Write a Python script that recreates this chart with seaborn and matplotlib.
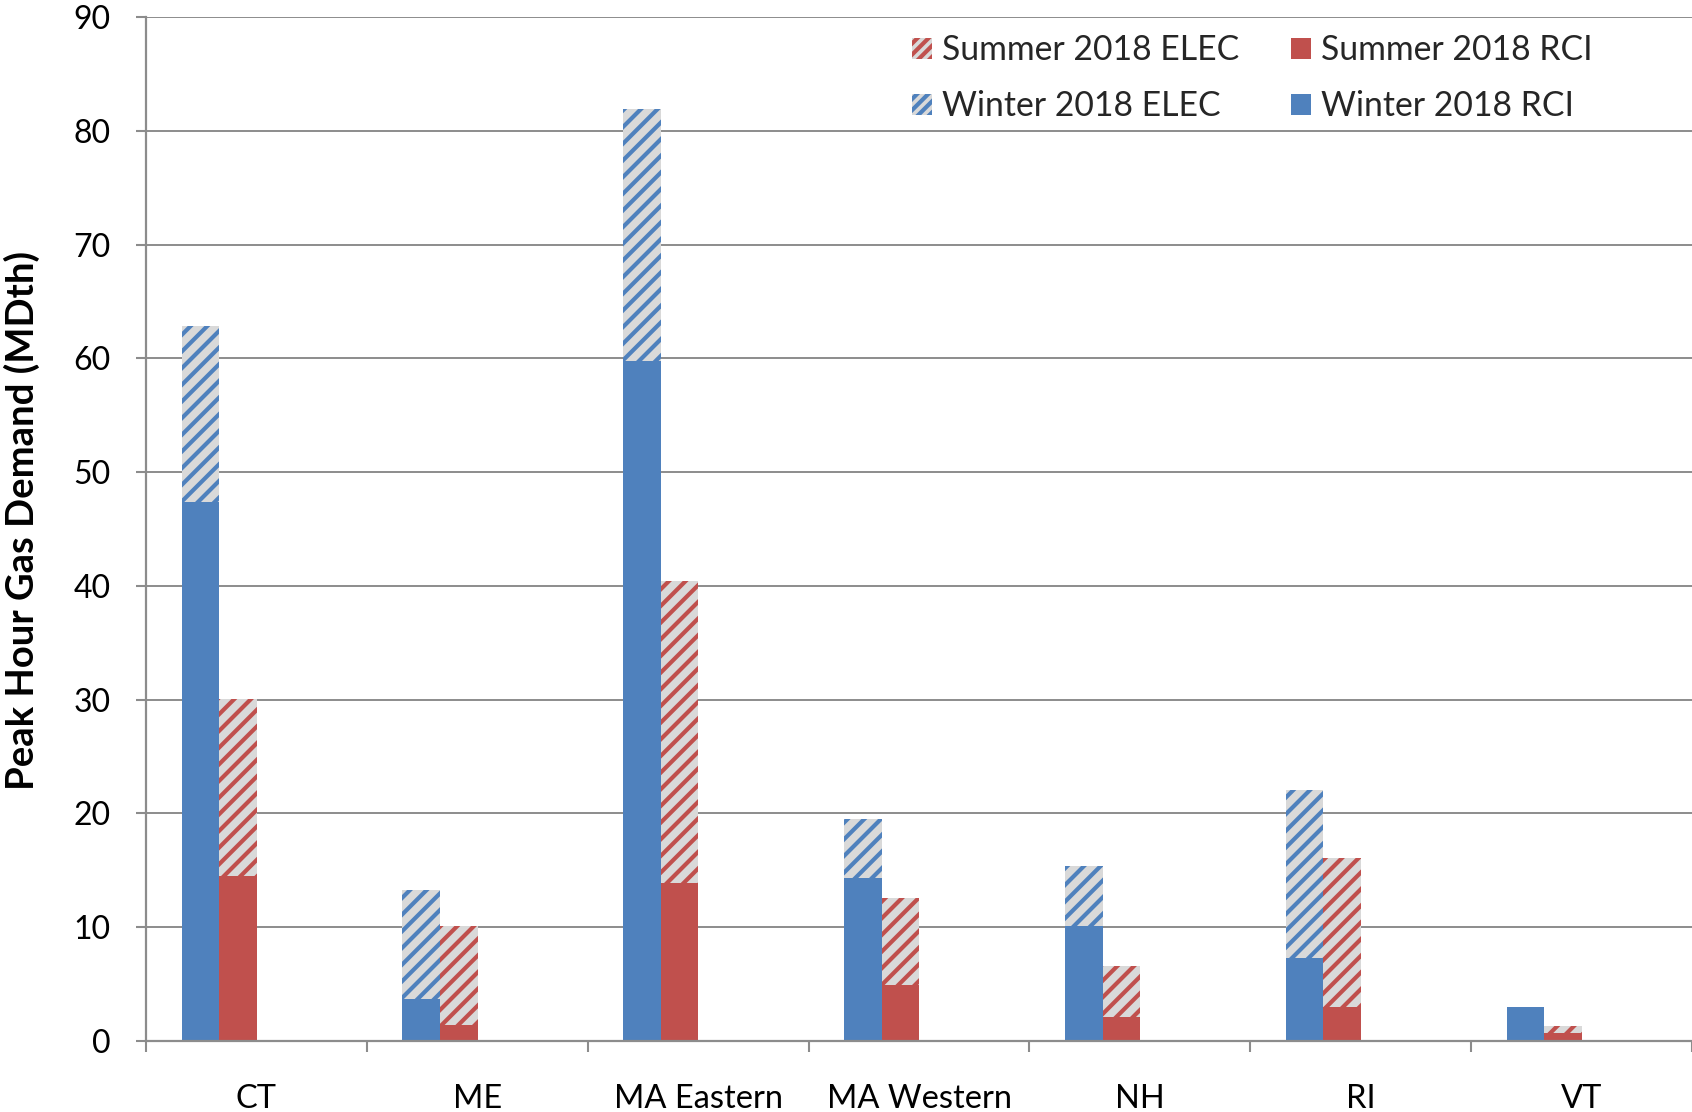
import matplotlib
matplotlib.use("Agg")
import matplotlib.pyplot as plt
from matplotlib.patches import Patch
import seaborn as sns
import pandas as pd

regions = ["CT", "ME", "MA Eastern", "MA Western", "NH", "RI", "VT"]
winter_rci = [47.4, 3.7, 59.8, 14.3, 10.1, 7.3, 2.95]
winter_elec = [15.4, 9.6, 22.1, 5.2, 5.3, 14.8, 0.0]
summer_rci = [14.5, 1.4, 13.9, 4.9, 2.1, 3.0, 0.7]
summer_elec = [15.6, 8.7, 26.5, 7.7, 4.5, 13.1, 0.6]
seasons = ["Winter", "Summer"]
season_colors = {"Winter": "#4f81bd", "Summer": "#c0504d"}
y_ticks = [0, 10, 20, 30, 40, 50, 60, 70, 80, 90]

rows = []
for i, r in enumerate(regions):
    rows.append({"region": r, "season": "Winter", "rci": winter_rci[i],
                 "total": winter_rci[i] + winter_elec[i]})
    rows.append({"region": r, "season": "Summer", "rci": summer_rci[i],
                 "total": summer_rci[i] + summer_elec[i]})
df = pd.DataFrame(rows)

sns.set_theme(style="white")
plt.rcParams["font.family"] = ["Lato", "DejaVu Sans"]
plt.rcParams["hatch.linewidth"] = 3.0

W, H = 1692, 1112
fig = plt.figure(figsize=(W / 100, H / 100), dpi=100)
ax = fig.add_axes([146 / W, 1 - 1041 / H, (1692 - 146) / W, (1041 - 17) / H])

grid_c = "#8c8c8c"
hatch_bg = "#d9d9d9"

# totals (hatched ELEC part shows above the RCI part)
n0 = len(ax.patches)
sns.barplot(data=df, x="region", y="total", hue="season", hue_order=seasons,
            order=regions, palette=season_colors, width=0.34, dodge=True,
            saturation=1, legend=False, errorbar=None, ax=ax, zorder=2)
for p in ax.patches[n0:]:
    c = p.get_facecolor()
    p.set_edgecolor(c)
    p.set_facecolor(hatch_bg)
    p.set_hatch("//")
    p.set_linewidth(0)
n1 = len(ax.patches)
sns.barplot(data=df, x="region", y="rci", hue="season", hue_order=seasons,
            order=regions, palette=season_colors, width=0.34, dodge=True,
            saturation=1, legend=False, errorbar=None, ax=ax, zorder=3)
for p in ax.patches[n1:]:
    p.set_linewidth(0)

# category slots: bar groups sit in the left half of each slot
off = 0.169
ax.set_xlim(-0.5 + off, len(regions) - 0.5 + off)
ax.set_xticks([i + off for i in range(len(regions))])
ax.set_xticklabels(regions)
ax.set_xticks([i + off - 0.5 for i in range(len(regions) + 1)], minor=True)
ax.tick_params(axis="x", which="major", length=0, pad=31, labelsize=23.5,
               labelcolor="black")
ax.tick_params(axis="x", which="minor", length=8, width=1.5, color=grid_c,
               direction="out", bottom=True)

ax.set_ylim(0, 90)
ax.set_yticks(y_ticks)
ax.tick_params(axis="y", length=7.5, width=1.5, color=grid_c, pad=18,
               labelsize=23, labelcolor="black", left=True)
ax.yaxis.grid(True, color=grid_c, linewidth=1.4, zorder=0)
ax.set_axisbelow(True)

for s in ["top", "right"]:
    ax.spines[s].set_visible(False)
for s in ["left", "bottom"]:
    ax.spines[s].set_color(grid_c)
    ax.spines[s].set_linewidth(1.6)
ax.spines["bottom"].set_zorder(4)

ax.set_xlabel("")
ax.set_ylabel("Peak Hour Gas Demand (MDth)", fontsize=27.5, fontweight="bold",
              color="black")
ax.yaxis.set_label_coords(-0.0686, 0.508)

handles = [
    Patch(facecolor=hatch_bg, edgecolor=season_colors["Summer"], hatch="///",
          linewidth=0, label="Summer 2018 ELEC"),
    Patch(facecolor=hatch_bg, edgecolor=season_colors["Winter"], hatch="///",
          linewidth=0, label="Winter 2018 ELEC"),
    Patch(facecolor=season_colors["Summer"], linewidth=0, label="Summer 2018 RCI"),
    Patch(facecolor=season_colors["Winter"], linewidth=0, label="Winter 2018 RCI"),
]
leg = ax.legend(handles=handles, ncol=2, loc="upper left",
                bbox_to_anchor=(912 / W, 1 - 34 / H),
                bbox_transform=fig.transFigure, frameon=False, fontsize=24.3,
                handlelength=0.58, handleheight=0.58, handletextpad=0.3,
                columnspacing=1.54, labelspacing=0.71, borderaxespad=0,
                borderpad=0)

fig.savefig("out.png", dpi=100, facecolor="white")
